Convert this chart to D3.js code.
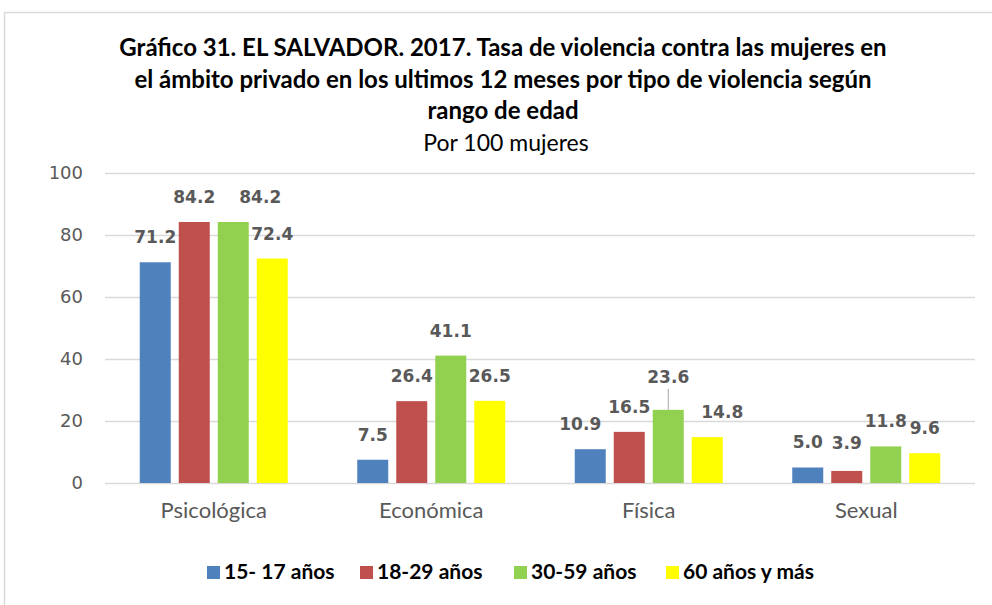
<!DOCTYPE html>
<html>
<head>
<meta charset="utf-8">
<script src="https://cdn.jsdelivr.net/npm/d3@7"></script>
<style>
  body { margin: 0; background: #fff; }
  svg { display: block; }
</style>
</head>
<body>
<div class="canvas"></div>
<script>
// data
const categories = ["Psicológica", "Económica", "Física", "Sexual"]
const series = ["15- 17 años", "18-29 años", "30-59 años", "60 años y más"]
const v1517 = [71.2, 7.5, 10.9, 5.0]
const v1829 = [84.2, 26.4, 16.5, 3.9]
const v3059 = [84.2, 41.1, 23.6, 11.8]
const v60 = [72.4, 26.5, 14.8, 9.6]
const yTicks = [0, 20, 40, 60, 80, 100]
const colors = ["#4f81bd", "#c0504d", "#92d050", "#ffff00"]

const titleLines = [
    "Gráfico 31. EL SALVADOR. 2017. Tasa de violencia contra las mujeres en",
    "el ámbito privado en los ultimos 12 meses por tipo de violencia según",
    "rango de edad"
]
const subtitle = "Por 100 mujeres"

const values = [v1517, v1829, v3059, v60]

const width = 992
const height = 605

const svg = d3.select(".canvas").append("svg")
    .attr("width", width)
    .attr("height", height)

// outer frame
svg.append("rect")
    .attr("x", 4.5)
    .attr("y", 12.5)
    .attr("width", 1000)
    .attr("height", 620)
    .attr("fill", "#fff")
    .attr("stroke", "#d9d9d9")
    .attr("stroke-width", 1.5)

// title
const title = svg.append("g")
titleLines.forEach((t, i) => {
    title.append("text")
        .attr("x", 503)
        .attr("y", 48 + i * 31.5)
        .attr("dy", "0.35em")
        .attr("text-anchor", "middle")
        .style("font-family", "Lato, sans-serif")
        .style("font-weight", "bold")
        .style("font-size", "24px")
        .style("fill", "#000")
        .text(t)
})
title.append("text")
    .attr("x", 506)
    .attr("y", 143)
    .attr("dy", "0.35em")
    .attr("text-anchor", "middle")
    .style("font-family", "Lato, sans-serif")
    .style("font-size", "23px")
    .style("fill", "#000")
    .text(subtitle)

// scales
const plot = { left: 105, right: 975, top: 173, bottom: 483 }

const x = d3.scaleBand()
    .domain(categories)
    .range([plot.left, plot.right])

const groupWidth = 148
const xs = d3.scaleBand()
    .domain(series)
    .range([0, groupWidth])
    .paddingInner(8 / 39)

const y = d3.scaleLinear()
    .domain([0, 100])
    .range([plot.bottom, plot.top])

// gridlines
svg.append("g")
    .selectAll("line")
    .data(yTicks)
    .enter()
    .append("line")
    .attr("x1", plot.left)
    .attr("x2", plot.right)
    .attr("y1", d => Math.round(y(d)) + 0.5)
    .attr("y2", d => Math.round(y(d)) + 0.5)
    .attr("stroke", "#d9d9d9")
    .attr("stroke-width", 1.5)

// y axis
const yAxis = d3.axisLeft(y)
    .tickValues(yTicks)
    .tickSize(0)
    .tickPadding(0)
const yAxisGroup = svg.append("g")
    .attr("transform", `translate(83, 0)`)
    .call(yAxis)
yAxisGroup.select(".domain").remove()
yAxisGroup.selectAll("text")
    .style("font-family", "'DejaVu Sans', sans-serif")
    .style("font-size", "18px")
    .style("fill", "#595959")

// x axis labels
const xAxis = d3.axisBottom(x)
    .tickSize(0)
    .tickPadding(0)
const xAxisGroup = svg.append("g")
    .attr("transform", `translate(0, 502)`)
    .call(xAxis)
xAxisGroup.select(".domain").remove()
xAxisGroup.selectAll("text")
    .style("font-family", "Lato, sans-serif")
    .style("font-size", "22px")
    .style("fill", "#595959")

// bars
const offset = (x.bandwidth() - groupWidth) / 2
const barData = []
categories.forEach((c, ci) => {
    series.forEach((s, si) => {
        barData.push({ cat: c, ser: s, si: si, value: values[si][ci] })
    })
})

const groups = svg.append("g")
groups.selectAll("rect")
    .data(barData)
    .enter()
    .append("rect")
    .attr("x", d => x(d.cat) + offset + xs(d.ser))
    .attr("y", d => y(d.value))
    .attr("width", xs.bandwidth())
    .attr("height", d => plot.bottom - y(d.value))
    .attr("fill", d => colors[d.si])

// data labels, a few were moved by hand in the original
const nudge = {
    "Psicológica|30-59 años": [27, 0],
    "Física|15- 17 años": [-10, 0],
    "Física|30-59 años": [0, -8],
    "Física|60 años y más": [15, 0],
    "Sexual|18-29 años": [0, -3]
}
const labelPos = d => {
    const n = nudge[d.cat + "|" + d.ser] || [0, 0]
    return [x(d.cat) + offset + xs(d.ser) + xs.bandwidth() / 2 + n[0], y(d.value) - 25 + n[1]]
}

// leader line for the moved Física label
const moved = barData.filter(d => d.cat === "Física" && d.ser === "30-59 años")
svg.append("g")
    .selectAll("line")
    .data(moved)
    .enter()
    .append("line")
    .attr("x1", d => labelPos(d)[0])
    .attr("x2", d => labelPos(d)[0])
    .attr("y1", d => labelPos(d)[1] + 12)
    .attr("y2", d => y(d.value))
    .attr("stroke", "#a6a6a6")
    .attr("stroke-width", 1)

svg.append("g")
    .selectAll("text")
    .data(barData)
    .enter()
    .append("text")
    .attr("x", d => labelPos(d)[0])
    .attr("y", d => labelPos(d)[1])
    .attr("dy", "0.35em")
    .attr("text-anchor", "middle")
    .style("font-family", "'DejaVu Sans', sans-serif")
    .style("font-weight", "bold")
    .style("font-size", "17px")
    .style("fill", "#595959")
    .text(d => d.value.toFixed(1))

// legend
const legendX = [207, 360, 514, 666]
const legend = svg.append("g")
    .selectAll("g")
    .data(series)
    .enter()
    .append("g")
    .attr("transform", (d, i) => `translate(${legendX[i]}, 572)`)
legend.append("rect")
    .attr("x", 0)
    .attr("y", -6)
    .attr("width", 13)
    .attr("height", 13)
    .attr("fill", (d, i) => colors[i])
legend.append("text")
    .attr("x", 17)
    .attr("dy", "0.35em")
    .style("font-family", "Lato, sans-serif")
    .style("font-weight", "bold")
    .style("font-size", "21px")
    .style("fill", "#000")
    .text(d => d)
</script>
</body>
</html>
